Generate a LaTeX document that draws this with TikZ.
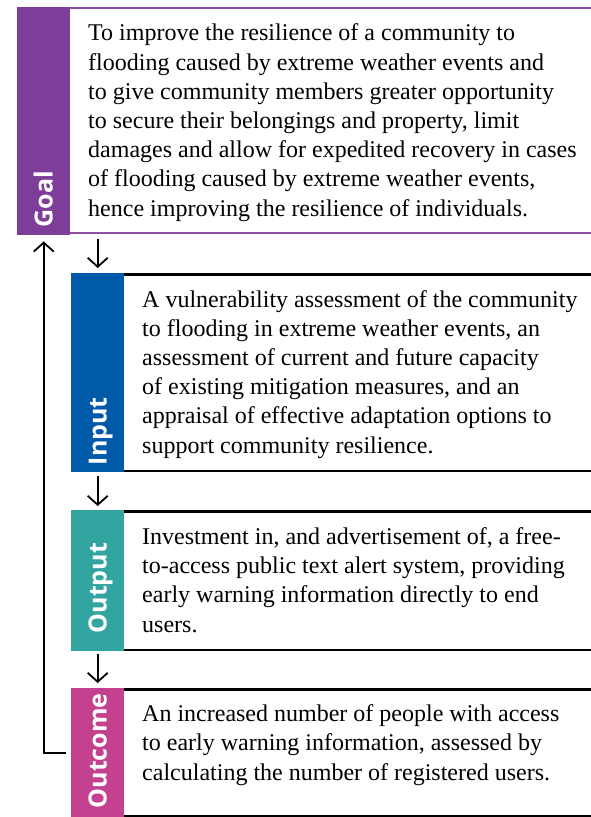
\documentclass[tikz,border=0pt]{standalone}
\usepackage{fontspec}
\setmainfont{Liberation Serif}
\newfontfamily\labelfont{Open Sans}
\usetikzlibrary{arrows.meta}
\definecolor{goalc}{HTML}{7E3D98}
\definecolor{goalline}{HTML}{8B4FA6}
\definecolor{inputc}{HTML}{0059A9}
\definecolor{outputc}{HTML}{33A5A1}
\definecolor{outcomec}{HTML}{C4418F}
\begin{document}
\begin{tikzpicture}[x=1pt,y=-1pt,
  bar/.style={draw=none, inner sep=0pt, minimum width=53pt, anchor=north west},
  lab/.style={rotate=90, anchor=base west, inner sep=0pt, text=white,
    font=\labelfont\bfseries\fontsize{25}{25}\selectfont},
  body/.style={anchor=base west, inner sep=0pt, align=left,
    font=\fontsize{24}{29.2}\selectfont},
  rule/.style={line width=2.5pt, black},
  arr/.style={line width=1.8pt, -{Straight Barb[length=9pt,width=20pt,line width=1.8pt]}}]
\useasboundingbox (0,0) rectangle (591,817);
\coordinate (R) at (591,0);
% bars
\node[bar, fill=goalc, minimum height=228pt] (goal) at (17,7) {};
\node[bar, fill=inputc, minimum height=199pt] (input) at (71,273) {};
\node[bar, fill=outputc, minimum height=141pt] (output) at (71,510) {};
\node[bar, fill=outcomec, minimum height=129pt] (outcome) at (71,688) {};
% labels
\node[lab] (goallab) at ([xshift=9pt,yshift=8pt]goal.south) {Goal};
\node[lab] (inputlab) at ([xshift=9pt,yshift=7pt]input.south) {Input};
\node[lab] (outputlab) at ([xshift=9pt,yshift=18pt]output.south) {Output};
\node[lab] (outcomelab) at ([xshift=9pt,yshift=9pt]outcome.south) {Outcome};
% rules
\draw[line width=2.2pt, goalline] ([yshift=-1pt]goal.north east) -- ([yshift=-1pt]goal.north east -| R);
\draw[line width=2pt, goalline] ([yshift=2pt]goal.south east) -- ([yshift=2pt]goal.south east -| R);
\draw[rule] ([yshift=-1.5pt]input.north east) -- ([yshift=-1.5pt]input.north east -| R);
\draw[rule] ([yshift=1.5pt]input.south east) -- ([yshift=1.5pt]input.south east -| R);
\draw[rule] ([yshift=-1.25pt]output.north east) -- ([yshift=-1.25pt]output.north east -| R);
\draw[rule] ([yshift=1.5pt]output.south east) -- ([yshift=1.5pt]output.south east -| R);
\draw[rule] ([yshift=-1.25pt]outcome.north east) -- ([yshift=-1.25pt]outcome.north east -| R);
\draw[rule] ([yshift=1.25pt]outcome.south east) -- ([yshift=1.25pt]outcome.south east -| R);
% texts (anchored at the baseline of the last line)
\node[body] (goaltext) at (88,216) {To improve the resilience of a community to\\
flooding caused by extreme weather events and\\
to give community members greater opportunity\\
to secure their belongings and property, limit\\
damages and allow for expedited recovery in cases\\
of flooding caused by extreme weather events,\\
hence improving the resilience of individuals.};
\node[body] (inputtext) at (142,453) {A vulnerability assessment of the community\\
to flooding in extreme weather events, an\\
assessment of current and future capacity\\
of existing mitigation measures, and an\\
appraisal of effective adaptation options to\\
support community resilience.};
\node[body] (outputtext) at (142,632) {Investment in, and advertisement of, a free-\\
to-access public text alert system, providing\\
early warning information directly to end\\
users.};
\node[body] (outcometext) at (142,780) {An increased number of people with access\\
to early warning information, assessed by\\
calculating the number of registered users.};
% arrows
\draw[arr, shorten <=4pt, shorten >=5pt] (input.north |- goal.south) -- (input.north);
\draw[arr, shorten <=4pt, shorten >=4pt] (input.south) -- (output.north);
\draw[arr, shorten <=3pt, shorten >=5pt] (output.south) -- (outcome.north);
\draw[arr, shorten <=5pt, shorten >=6pt] (outcome.west) -| (goal.south);
\end{tikzpicture}
\end{document}
